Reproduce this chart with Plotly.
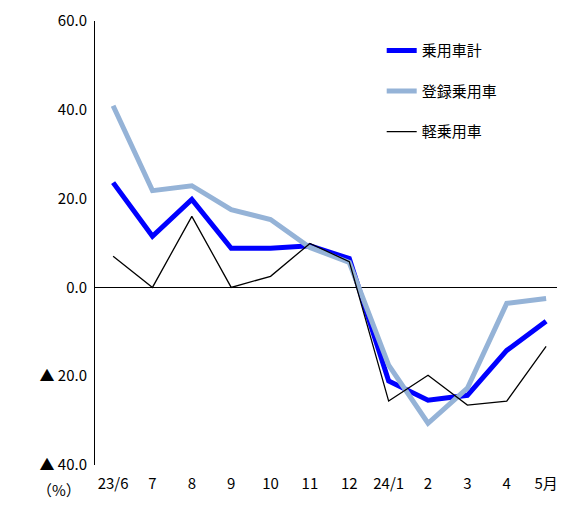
import plotly.graph_objects as go

months = ["23/6","7","8","9","10","11","12","24/1","2","3","4","5月"]
total = [23.6,11.5,19.8,8.8,8.8,9.4,6.5,-21.1,-25.4,-24.3,-14.2,-7.6]
registered = [40.9,21.8,22.9,17.5,15.3,9.0,5.6,-17.5,-30.6,-22.7,-3.6,-2.5]
kei = [7.0,0.0,16.0,0.0,2.5,9.9,5.8,-25.6,-19.8,-26.5,-25.6,-13.3]
yticks = [60,40,20,0,-20,-40]
ytext = ["60.0","40.0","20.0","0.0","▲ 20.0","▲ 40.0"]

x = list(range(len(months)))
fig = go.Figure()
fig.add_trace(go.Scatter(x=x, y=total, name="乗用車計", legendgroup="a", mode="lines", line=dict(color="#0000ff", width=5)))
fig.add_trace(go.Scatter(x=x, y=registered, name="登録乗用車", legendgroup="b", mode="lines", line=dict(color="#95b3d7", width=5)))
fig.add_trace(go.Scatter(x=x, y=kei, name="軽乗用車", legendgroup="c", mode="lines", line=dict(color="#000000", width=1.3)))
fig.update_layout(
    width=557, height=498, plot_bgcolor="white", paper_bgcolor="white",
    margin=dict(l=87, r=0, t=13, b=41),
    font=dict(family="Noto Sans CJK JP", size=15, color="black"),
    legend=dict(x=0.61, y=0.97, xanchor="left", yanchor="top", bgcolor="rgba(0,0,0,0)",
                font=dict(size=15), tracegroupgap=18),
    showlegend=True,
)
fig.update_xaxes(range=[-0.46, 11.48], tickvals=x, ticktext=months, showgrid=False,
                 zeroline=False, showline=False, ticks="", ticklabelstandoff=8, automargin=False)
fig.update_yaxes(range=[-40, 60], tickvals=yticks, ticktext=ytext, showgrid=False,
                 zeroline=True, zerolinecolor="black", zerolinewidth=1, automargin=False,
                 showline=True, linecolor="black", ticks="outside", ticklen=4, tickcolor="white")
fig.add_annotation(text="（%）", xref="paper", yref="paper", x=0, y=0, xanchor="right",
                   yanchor="top", yshift=-12, xshift=-12, showarrow=False, font=dict(size=15))
fig.write_html("out.html")
